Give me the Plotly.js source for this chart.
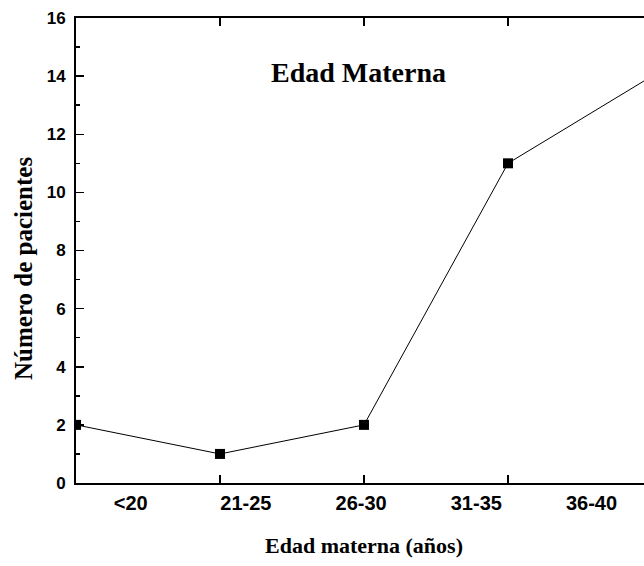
<!DOCTYPE html>
<html>
<head>
<meta charset="utf-8">
<script src="https://cdn.plot.ly/plotly-3.0.1.min.js"></script>
<style>
html,body{margin:0;padding:0;overflow:hidden;background:#fff;}
#chart{width:662px;height:566px;}
</style>
</head>
<body>
<div id="chart"></div>
<script>
// Data
var categories = ["<20", "21-25", "26-30", "31-35", "36-40"];
var xPositions = [1, 2, 3, 4, 5];
var patients = [2, 1, 2, 11, 14];
var yTickVals = [0, 2, 4, 6, 8, 10, 12, 14, 16];

var serif = "Times New Roman, Liberation Serif, serif";
var sans = "Arial, Liberation Sans, sans-serif";

// category label positions (the original places them between points)
var labelPos = categories.map(function (c, i) { return 1.38 + 0.8 * i; });

var trace = {
  x: xPositions,
  y: patients,
  type: "scatter",
  mode: "lines+markers",
  line: {color: "#000", width: 1},
  marker: {symbol: "square", size: 10, color: "#000"},
  cliponaxis: true,
  showlegend: false,
  hoverinfo: "skip"
};

// invisible trace to activate the label axis
var labelTrace = {
  x: labelPos,
  y: labelPos.map(function () { return null; }),
  xaxis: "x2",
  type: "scatter",
  mode: "markers",
  showlegend: false,
  hoverinfo: "skip"
};

var layout = {
  width: 662,
  height: 566,
  margin: {l: 76, r: 10, t: 18, b: 83},
  paper_bgcolor: "#fff",
  plot_bgcolor: "#fff",
  showlegend: false,
  title: {
    text: "Edad Materna",
    font: {family: serif, size: 28, color: "#000", weight: "bold"},
    xref: "container",
    x: 358.5 / 662,
    xanchor: "center",
    yref: "container",
    y: 1 - 72 / 566,
    yanchor: "middle"
  },
  annotations: [{
    text: "Número de pacientes",
    textangle: -90,
    xref: "paper",
    yref: "paper",
    x: (23 - 76) / 576,
    y: (483 - 269) / 465,
    xanchor: "center",
    yanchor: "middle",
    showarrow: false,
    font: {family: serif, size: 25, color: "#000", weight: "bold"}
  }],
  xaxis: {
    range: [1, 5],
    tickmode: "array",
    tickvals: [2, 3, 4],
    showticklabels: false,
    ticks: "inside",
    ticklen: 8,
    tickwidth: 1.5,
    tickcolor: "#000",
    showline: true,
    linecolor: "#000",
    linewidth: 2,
    mirror: "ticks",
    showgrid: false,
    zeroline: false,
    fixedrange: true,
    title: {
      text: "Edad materna (años)",
      font: {family: serif, size: 22, color: "#000", weight: "bold"},
      standoff: 54
    }
  },
  xaxis2: {
    overlaying: "x",
    side: "bottom",
    range: [1, 5],
    tickmode: "array",
    tickvals: labelPos,
    ticktext: categories,
    ticks: "",
    showline: false,
    showgrid: false,
    zeroline: false,
    tickfont: {family: sans, size: 20, color: "#000", weight: "bold"},
    ticklabelstandoff: 6,
    fixedrange: true
  },
  yaxis: {
    range: [0, 16],
    tickmode: "array",
    tickvals: yTickVals,
    ticks: "inside",
    ticklen: 8,
    tickwidth: 1.5,
    tickcolor: "#000",
    minor: {dtick: 1, ticks: "inside", ticklen: 4, tickwidth: 1.5, tickcolor: "#000", showgrid: false},
    showline: true,
    linecolor: "#000",
    linewidth: 2,
    mirror: "ticks",
    showgrid: false,
    zeroline: false,
    tickfont: {family: sans, size: 17, color: "#000", weight: "bold"},
    ticklabelstandoff: 5,
    fixedrange: true
  }
};

Plotly.newPlot("chart", [trace, labelTrace], layout, {displayModeBar: false, staticPlot: true});
</script>
</body>
</html>
